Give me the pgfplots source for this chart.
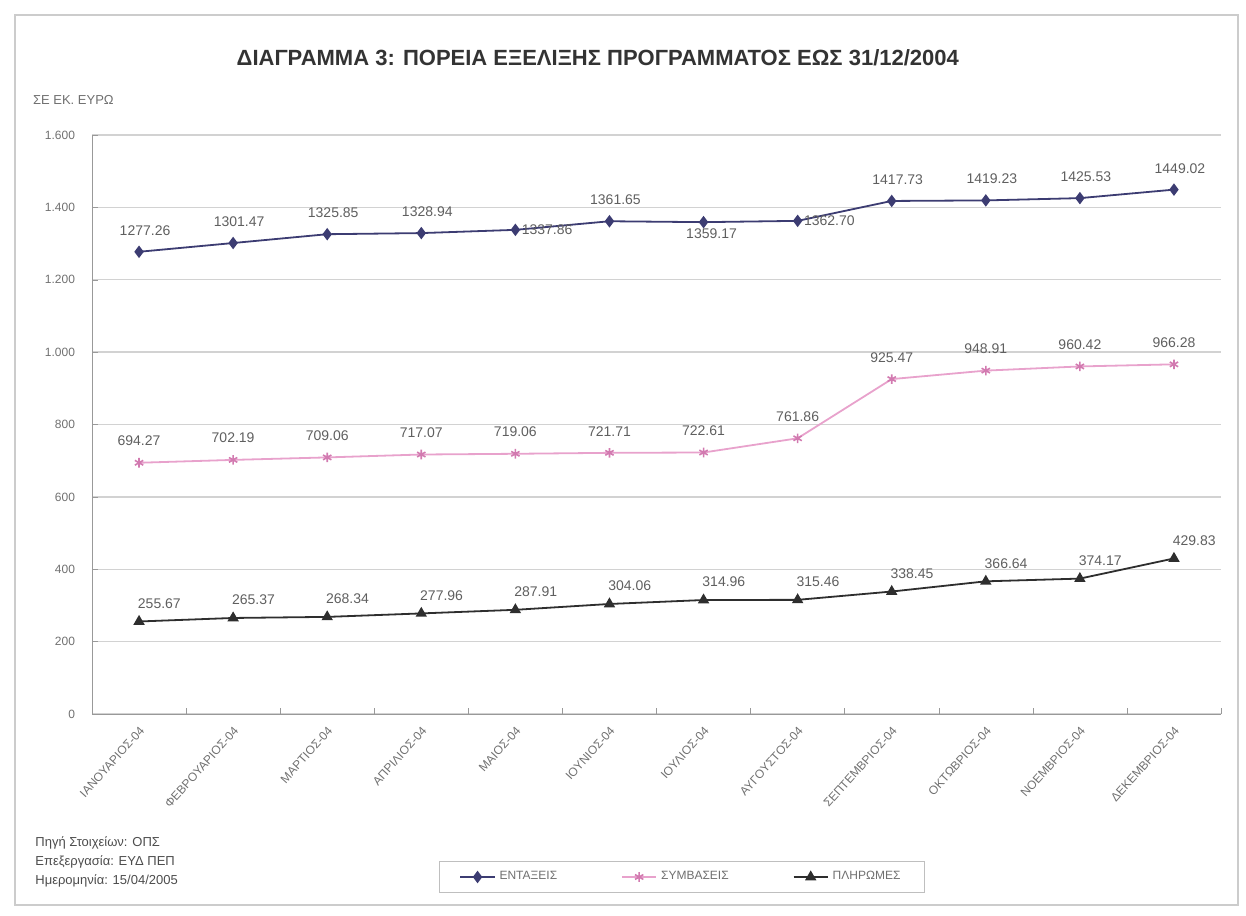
\documentclass[border=0pt]{standalone}
\usepackage{pgfplots}
\pgfplotsset{compat=1.18}
\usepackage{fontspec}
\setmainfont{Liberation Sans}

\definecolor{navyser}{HTML}{3C3C72}
\definecolor{pinkser}{HTML}{E8A2CC}
\definecolor{pinkmark}{HTML}{D27AB0}
\definecolor{darkser}{HTML}{2E2E2E}
\definecolor{gridc}{HTML}{D2D2D2}
\definecolor{txt}{HTML}{707070}

\pgfplotsset{lbl/.style={nodes near coords={\pgfmathprintnumber[fixed,fixed zerofill,precision=2,dec sep={.},1000 sep={},assume math mode=true]{\pgfplotspointmeta}}, every node near coord/.append style={font=\fontsize{7}{8}\selectfont, text=txt!85!black}}}

\begin{document}
\begin{tikzpicture}
\begin{axis}[
  name=ax,
  scale only axis,
  width=564.5pt, height=289.5pt,
  xmin=-0.5, xmax=11.5, ymin=0, ymax=1600,
  ytick={0,200,...,1600},
  xtick={0,...,11},
  xticklabels={ΙΑΝΟΥΑΡΙΟΣ-04,ΦΕΒΡΟΥΑΡΙΟΣ-04,ΜΑΡΤΙΟΣ-04,ΑΠΡΙΛΙΟΣ-04,ΜΑΙΟΣ-04,ΙΟΥΝΙΟΣ-04,ΙΟΥΛΙΟΣ-04,ΑΥΓΟΥΣΤΟΣ-04,ΣΕΠΤΕΜΒΡΙΟΣ-04,ΟΚΤΩΒΡΙΟΣ-04,ΝΟΕΜΒΡΙΟΣ-04,ΔΕΚΕΜΒΡΙΟΣ-04},
  minor xtick={-0.5,0.5,...,11.5},
  axis x line*=bottom, axis y line*=left,
  axis line style={color=gray!80},
  major x tick style={draw=none},
  minor tick length=3pt,
  major tick length=3pt,
  tick style={color=gray!80},
  ymajorgrids, grid style={gridc, line width=0.7pt},
  xticklabel style={rotate=48, anchor=east, font=\fontsize{6}{7}\selectfont, text=txt, xshift=-1pt, yshift=-6pt},
  yticklabel style={font=\fontsize{6}{7}\selectfont, text=txt, /pgf/number format/1000 sep={.}, xshift=-5pt},
  /pgf/number format/assume math mode=true,
  clip=false,
  legend columns=3,
  legend style={at={([yshift=-81.5pt]rel axis cs:0.5226,0)}, anchor=center, draw=gray!50, font=\fontsize{6}{7}\selectfont, text=txt, /tikz/every even column/.append style={column sep=30pt}, inner xsep=10pt, inner ysep=3pt},
]
% top series
\addplot[color=navyser, line width=0.9pt, mark=diamond*, mark size=2.4pt, mark options={fill=navyser}]
  coordinates {(0,1277.26) (1,1301.47) (2,1325.85) (3,1328.94) (4,1337.86) (5,1361.65) (6,1359.17) (7,1362.70) (8,1417.73) (9,1419.23) (10,1425.53) (11,1449.02)};
\addlegendentry{ΕΝΤΑΞΕΙΣ}
\addplot[color=pinkser, line width=0.9pt, mark=asterisk, mark size=2.4pt, mark options={color=pinkmark, line width=0.8pt}, lbl,
  every node near coord/.append style={anchor=south, inner sep=1pt, yshift=7pt}]
  coordinates {(0,694.27) (1,702.19) (2,709.06) (3,717.07) (4,719.06) (5,721.71) (6,722.61) (7,761.86) (8,925.47) (9,948.91) (10,960.42) (11,966.28)};
\addlegendentry{ΣΥΜΒΑΣΕΙΣ}
\addplot[color=darkser, line width=0.9pt, mark=triangle*, mark size=2.4pt, mark options={fill=darkser}, lbl,
  every node near coord/.append style={anchor=south west, inner sep=1pt, xshift=-2pt, yshift=5pt}]
  coordinates {(0,255.67) (1,265.37) (2,268.34) (3,277.96) (4,287.91) (5,304.06) (6,314.96) (7,315.46) (8,338.45) (9,366.64) (10,374.17) (11,429.83)};
\addlegendentry{ΠΛΗΡΩΜΕΣ}
% labels of top series
\addplot[draw=none, forget plot, lbl, every node near coord/.append style={anchor=south, inner sep=1pt, yshift=7pt, xshift=3pt}]
  coordinates {(0,1277.26) (1,1301.47) (2,1325.85) (3,1328.94) (5,1361.65) (8,1417.73) (9,1419.23) (10,1425.53) (11,1449.02)};
\addplot[draw=none, forget plot, lbl, every node near coord/.append style={anchor=west, inner sep=3pt}]
  coordinates {(4,1337.86) (7,1362.70)};
\addplot[draw=none, forget plot, lbl, every node near coord/.append style={anchor=north, inner sep=3pt, xshift=4pt}]
  coordinates {(6,1359.17)};

\node[font=\bfseries\fontsize{11}{13}\selectfont, text=black!80] at ([yshift=38.5pt]rel axis cs:0.448,1) {ΔΙΑΓΡΑΜΜΑ 3: ΠΟΡΕΙΑ ΕΞΕΛΙΞΗΣ ΠΡΟΓΡΑΜΜΑΤΟΣ ΕΩΣ 31/12/2004};
\node[font=\fontsize{6.5}{7}\selectfont, text=txt, anchor=west] at ([xshift=-33pt, yshift=17.5pt]rel axis cs:0,1) {ΣΕ ΕΚ. ΕΥΡΩ};
\node[font=\fontsize{6.5}{9.5}\selectfont, text=black!70, anchor=north west, align=left, inner sep=0pt] at ([xshift=-28.5pt, yshift=-61pt]rel axis cs:0,0) {Πηγή Στοιχείων: ΟΠΣ\\Επεξεργασία: ΕΥΔ ΠΕΠ\\Ημερομηνία: 15/04/2005};
\end{axis}
\draw[gray!40, line width=0.6pt] ([shift={(-38.5pt,-95.5pt)}]ax.south west) rectangle ([shift={(8.5pt,60pt)}]ax.north east);
\pgfresetboundingbox
\path ([shift={(-46pt,-100.5pt)}]ax.south west) rectangle ([shift={(12.5pt,67.5pt)}]ax.north east);
\end{tikzpicture}
\end{document}
